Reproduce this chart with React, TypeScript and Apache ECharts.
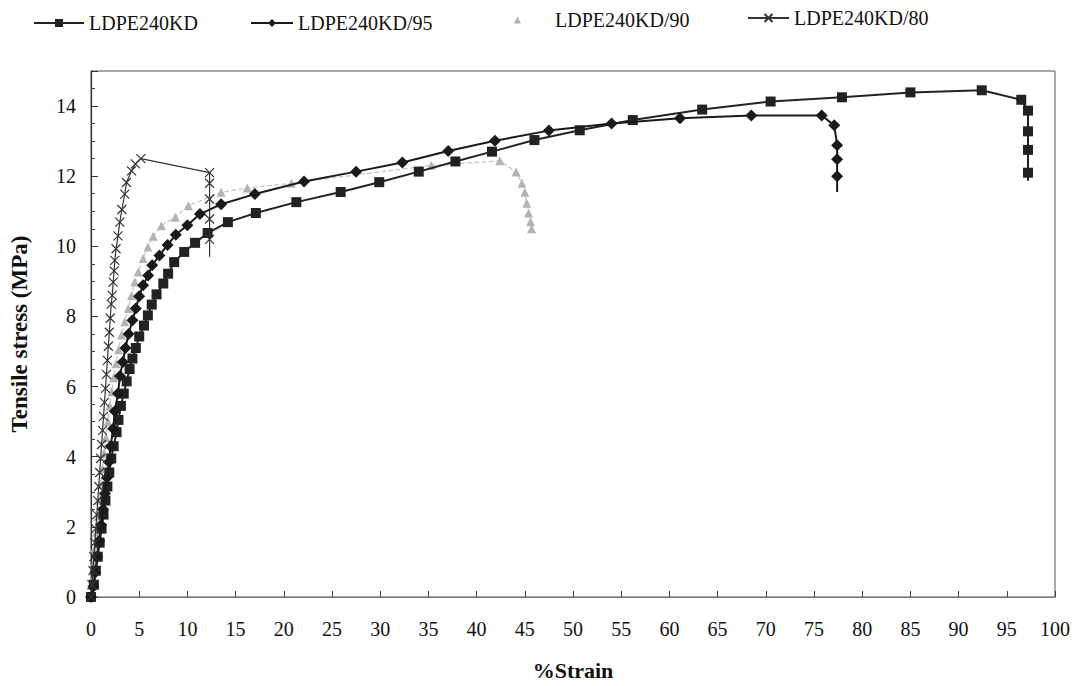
import React, { useEffect, useRef } from "react";
import * as echarts from "echarts";

// Series names
const seriesNames = ["LDPE240KD", "LDPE240KD/95", "LDPE240KD/90", "LDPE240KD/80"];

// LDPE240KD (squares)
const strainKD = [0, 0.3, 0.5, 0.7, 0.9, 1.1, 1.3, 1.5, 1.7, 1.9, 2.1, 2.35, 2.65, 2.85, 3.1, 3.4, 3.7, 4.0, 4.3, 4.65, 5.0, 5.5, 5.9, 6.3, 6.8, 7.5, 8.0, 8.63, 9.67, 10.8, 12.1, 14.2, 17.1, 21.3, 25.9, 29.9, 34.0, 37.8, 41.6, 46.0, 50.7, 56.2, 63.4, 70.5, 77.9, 85.0, 92.4, 96.5, 97.2, 97.2, 97.2, 97.2, 97.2];
const stressKD = [0, 0.35, 0.75, 1.15, 1.55, 1.95, 2.35, 2.75, 3.15, 3.55, 3.95, 4.3, 4.7, 5.05, 5.45, 5.8, 6.15, 6.5, 6.8, 7.1, 7.43, 7.74, 8.03, 8.34, 8.63, 8.94, 9.22, 9.55, 9.84, 10.1, 10.38, 10.69, 10.95, 11.26, 11.55, 11.83, 12.13, 12.42, 12.7, 13.03, 13.31, 13.6, 13.9, 14.13, 14.25, 14.39, 14.45, 14.18, 13.87, 13.28, 12.75, 12.1, 11.87];

// LDPE240KD/95 (diamonds)
const strain95 = [0, 0.25, 0.45, 0.65, 0.85, 1.05, 1.25, 1.45, 1.65, 1.85, 2.05, 2.3, 2.47, 2.8, 3.0, 3.3, 3.57, 3.9, 4.3, 4.65, 5.0, 5.4, 5.93, 6.35, 7.1, 7.94, 8.8, 10.0, 11.3, 13.5, 17.0, 22.1, 27.5, 32.3, 37.05, 41.9, 47.5, 54.0, 61.1, 68.5, 75.8, 77.1, 77.4, 77.4, 77.4, 77.4];
const stress95 = [0, 0.3, 0.7, 1.15, 1.6, 2.05, 2.5, 2.95, 3.4, 3.85, 4.3, 4.8, 5.3, 5.8, 6.3, 6.7, 7.1, 7.5, 7.89, 8.23, 8.58, 8.89, 9.17, 9.46, 9.74, 10.04, 10.33, 10.6, 10.92, 11.2, 11.49, 11.85, 12.13, 12.39, 12.72, 13.01, 13.3, 13.5, 13.65, 13.73, 13.73, 13.45, 12.88, 12.48, 12.0, 11.55];

// LDPE240KD/90 (triangles)
const strain90 = [0, 0.2, 0.3, 0.4, 0.55, 0.7, 0.85, 1.0, 1.2, 1.35, 1.55, 1.75, 1.95, 2.15, 2.35, 2.6, 2.85, 3.16, 3.5, 3.86, 4.2, 4.55, 4.9, 5.4, 5.9, 6.45, 7.3, 8.75, 10.1, 13.5, 16.2, 20.8, 35.3, 42.4, 44.1, 44.7, 45.0, 45.2, 45.4, 45.6, 45.7];
const stress90 = [0, 0.5, 0.95, 1.4, 1.85, 2.3, 2.75, 3.2, 3.65, 4.1, 4.55, 5.0, 5.45, 5.85, 6.25, 6.65, 7.05, 7.47, 7.85, 8.23, 8.6, 8.98, 9.27, 9.65, 9.98, 10.29, 10.59, 10.83, 11.16, 11.54, 11.66, 11.8, 12.31, 12.44, 12.12, 11.8, 11.54, 11.23, 10.95, 10.7, 10.5];

// LDPE240KD/80 (crosses)
const strain80 = [0, 0.1, 0.2, 0.3, 0.4, 0.5, 0.6, 0.7, 0.8, 0.9, 1.0, 1.1, 1.2, 1.3, 1.4, 1.5, 1.6, 1.7, 1.8, 1.9, 2.0, 2.1, 2.2, 2.3, 2.4, 2.47, 2.6, 2.8, 2.99, 3.2, 3.5, 3.68, 4.2, 4.6, 5.17, 12.3, 12.3, 12.3, 12.3, 12.3, 12.3];
const stress80 = [0, 0.35, 0.75, 1.15, 1.55, 1.95, 2.35, 2.75, 3.15, 3.55, 3.95, 4.35, 4.75, 5.15, 5.55, 5.95, 6.35, 6.75, 7.15, 7.55, 7.95, 8.35, 8.6, 8.98, 9.3, 9.6, 9.93, 10.3, 10.69, 11.05, 11.49, 11.82, 12.15, 12.35, 12.5, 12.1, 11.8, 11.35, 10.78, 10.2, 9.7];

const xTicks = { min: 0, max: 100, interval: 5 };
const yTicks = { min: 0, max: 15, interval: 2 };

const CROSS = "path://M0,0L10,10M0,10L10,0";

// Pair strain/stress; the last point of a falling tail carries no marker
function pairs(xs: number[], ys: number[], bareTail: boolean) {
  return xs.map((x, i) => {
    const item: any = { value: [x, ys[i]] };
    if (bareTail && i === xs.length - 1) item.symbol = "none";
    return item;
  });
}

export default function App() {
  const ref = useRef<HTMLDivElement>(null);

  useEffect(() => {
    document.body.style.margin = "0";
    if (!ref.current) return;
    const chart = echarts.init(ref.current, undefined, { renderer: "svg" });
    const serif = "'Liberation Serif', 'DejaVu Serif', serif";
    const ink = "#111";

    const legendText = { fontFamily: serif, fontSize: 20, color: ink };

    chart.setOption({
      animation: false,
      backgroundColor: "#ffffff",
      legend: [
        { data: [seriesNames[0]], left: 28, top: 8, itemWidth: 50, itemHeight: 10, textStyle: legendText },
        { data: [seriesNames[1]], left: 245, top: 8, itemWidth: 42, itemHeight: 10, textStyle: legendText },
        {
          data: [{ name: seriesNames[2], icon: "triangle" }],
          left: 509,
          top: 5,
          itemWidth: 7,
          itemHeight: 7,
          textStyle: { ...legendText, padding: [0, 0, 0, 29] },
        },
        { data: [seriesNames[3]], left: 742, top: 3, itemWidth: 41, itemHeight: 10, textStyle: legendText },
      ],
      grid: {
        left: 90,
        right: 24,
        top: 71,
        bottom: 86,
        show: true,
        borderColor: "#555",
        borderWidth: 1,
      },
      xAxis: {
        type: "value",
        min: xTicks.min,
        max: xTicks.max,
        interval: xTicks.interval,
        name: "%Strain",
        nameLocation: "middle",
        nameGap: 62,
        nameTextStyle: { fontFamily: serif, fontSize: 22, fontWeight: "bold", color: ink },
        axisLine: { show: true, lineStyle: { color: "#777", width: 1 } },
        axisTick: { show: true, inside: true, length: 6, lineStyle: { color: "#444" } },
        axisLabel: { fontFamily: serif, fontSize: 20, color: ink, margin: 22 },
        splitLine: { show: false },
      },
      yAxis: {
        type: "value",
        min: yTicks.min,
        max: yTicks.max,
        interval: yTicks.interval,
        name: "Tensile stress (MPa)",
        nameLocation: "middle",
        nameGap: 60,
        nameRotate: 90,
        nameTextStyle: { fontFamily: serif, fontSize: 23, fontWeight: "bold", color: ink },
        axisLine: { show: true, lineStyle: { color: "#333", width: 1.2 } },
        axisTick: { show: true, inside: true, length: 7, lineStyle: { color: "#333" } },
        minorTick: { show: true, splitNumber: 4, length: 4, lineStyle: { color: "#444" } },
        axisLabel: { fontFamily: serif, fontSize: 20, color: ink, margin: 15, showMaxLabel: false },
        splitLine: { show: false },
      },
      series: [
        {
          name: seriesNames[0],
          type: "line",
          data: pairs(strainKD, stressKD, true),
          symbol: "rect",
          symbolSize: 10,
          itemStyle: { color: "#222" },
          lineStyle: { color: "#222", width: 2 },
          z: 3,
        },
        {
          name: seriesNames[1],
          type: "line",
          data: pairs(strain95, stress95, true),
          symbol: "diamond",
          symbolSize: 12,
          itemStyle: { color: "#1a1a1a" },
          lineStyle: { color: "#1a1a1a", width: 2 },
          z: 4,
        },
        {
          name: seriesNames[2],
          type: "line",
          data: pairs(strain90, stress90, false),
          symbol: "triangle",
          symbolSize: 9,
          itemStyle: { color: "#b3b3b3" },
          lineStyle: { color: "#c4c4c4", width: 1.2, type: "dashed" },
          z: 2,
        },
        {
          name: seriesNames[3],
          type: "line",
          data: pairs(strain80, stress80, true),
          symbol: CROSS,
          symbolSize: 9,
          itemStyle: { color: "#333", borderColor: "#333", borderWidth: 1.2 },
          lineStyle: { color: "#333", width: 1.2 },
          z: 5,
        },
      ],
    });

    return () => chart.dispose();
  }, []);

  return <div ref={ref} style={{ width: 1079, height: 686 }} />;
}
